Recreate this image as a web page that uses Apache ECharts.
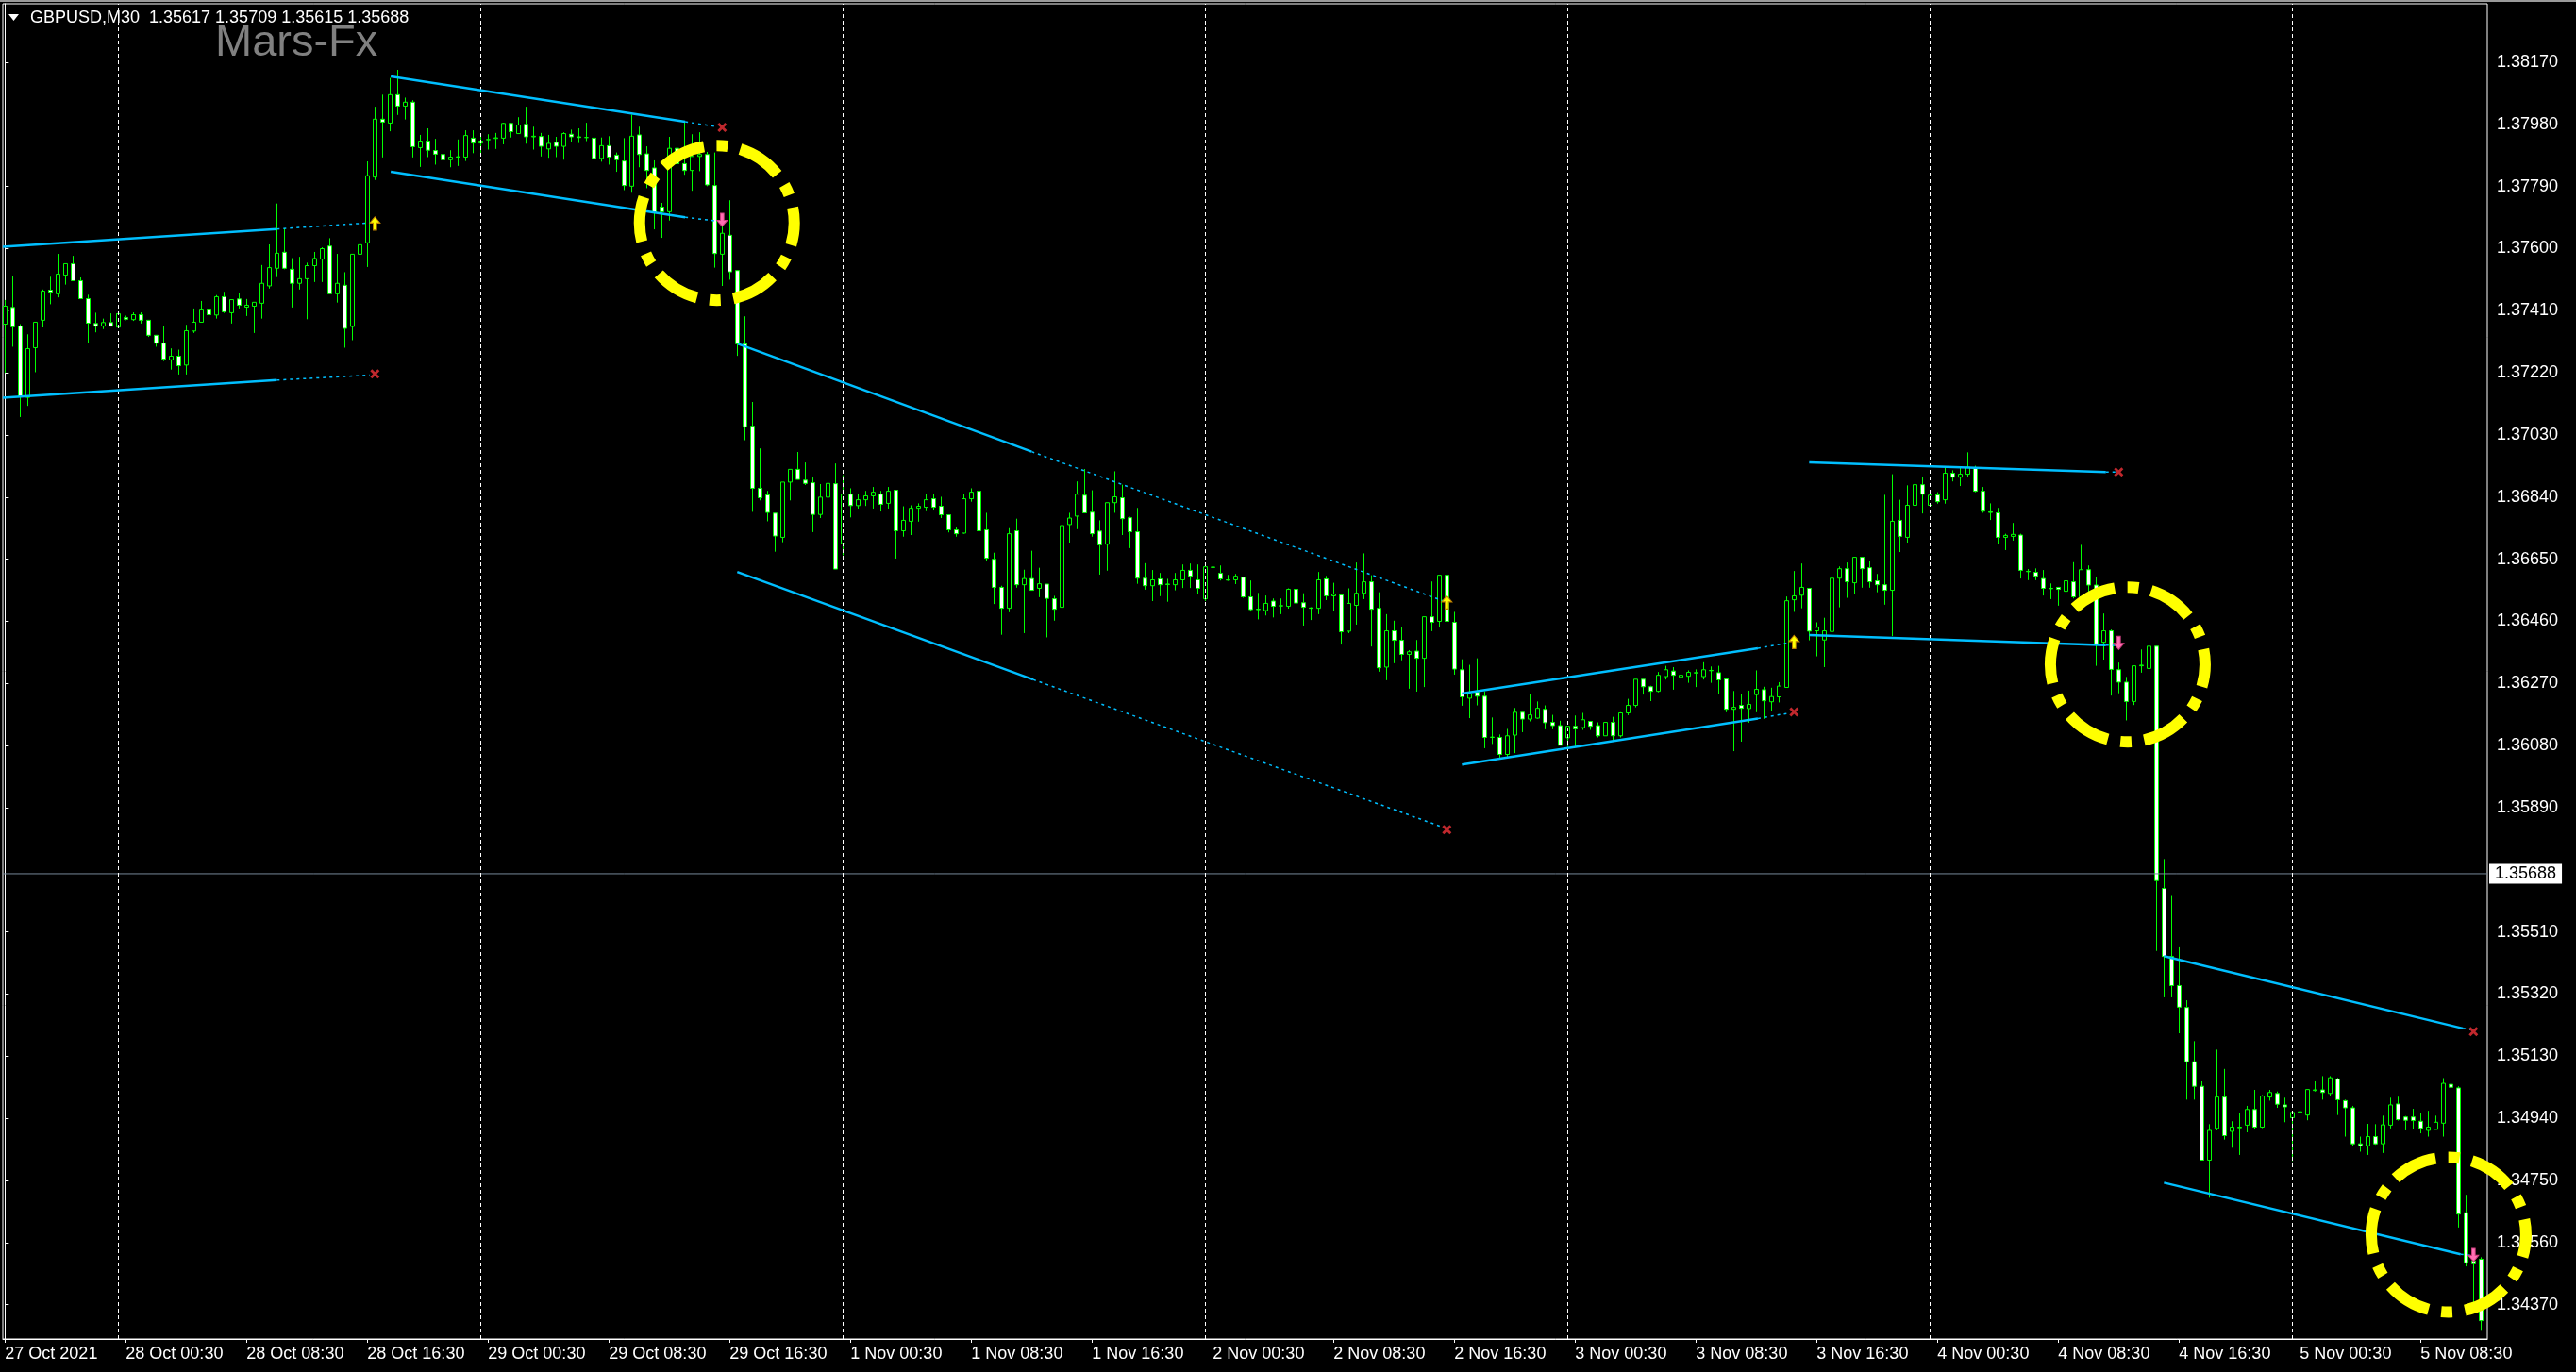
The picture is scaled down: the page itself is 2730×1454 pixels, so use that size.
<!DOCTYPE html>
<html><head><meta charset="utf-8">
<script src="https://cdn.jsdelivr.net/npm/echarts@6/dist/echarts.min.js"></script>
<style>html,body{margin:0;padding:0;background:#000;overflow:hidden}#chart{width:2730px;height:1454px}</style>
</head><body><div id="chart"></div>
<script>
// ---- DATA (GBPUSD M30, bar 0 = 27 Oct 2021 16:30) ----
const opens = [
1.37369,1.37420,1.37363,1.37145,1.37297,1.37381,1.37473,1.37462,1.37519,1.37554,
1.37502,1.37447,1.37371,1.37363,1.37374,1.37360,1.37389,1.37383,1.37398,1.37381,
1.37335,1.37311,1.37260,1.37271,1.37244,1.37348,1.37375,1.37415,1.37397,1.37453,
1.37404,1.37446,1.37421,1.37424,1.37433,1.37486,1.37540,1.37589,1.37537,1.37494,
1.37508,1.37548,1.37568,1.37608,1.37462,1.37488,1.37362,1.37583,1.37618,1.37819,
1.37996,1.37984,1.38071,1.38036,1.38048,
1.37909,1.37929,1.37900,1.37888,1.37872,1.37880,1.37880,1.37938,1.37923,1.37933,
1.37937,1.37938,1.37983,1.37952,1.37980,1.37942,1.37943,1.37905,1.37925,1.37913,
1.37950,1.37942,1.37940,1.37938,1.37876,1.37915,1.37886,1.37868,1.37791,1.37948,
1.37890,1.37847,1.37727,1.37713,1.37907,1.37860,1.37839,1.37882,1.37888,1.37793,
1.37583,1.37641,1.37533,1.37309,1.37057,1.36867,1.36847,1.36791,1.36717,1.36886,
1.36925,1.36892,1.36884,1.36787,1.36840,
1.36881,1.36698,1.36849,1.36814,1.36832,1.36844,1.36849,1.36821,1.36861,1.36737,
1.36766,1.36806,1.36809,1.36835,1.36812,1.36786,1.36740,1.36730,1.36835,1.36858,
1.36740,1.36650,1.36564,1.36500,1.36737,1.36572,1.36591,1.36561,1.36574,1.36529,
1.36503,1.36756,1.36782,1.36846,1.36794,1.36736,1.36696,1.36823,1.36838,1.36777,
1.36734,1.36592,1.36569,1.36590,1.36574,1.36572,1.36587,1.36616,1.36587,1.36529,
1.36625,1.36607,1.36587,1.36587,1.36595,
1.36535,1.36497,1.36493,1.36522,1.36507,1.36506,1.36558,1.36517,1.36501,1.36500,
1.36590,1.36538,1.36541,1.36430,1.36509,1.36546,1.36581,1.36500,1.36320,1.36431,
1.36402,1.36359,1.36369,1.36347,1.36474,1.36460,1.36601,1.36457,1.36312,1.36225,
1.36243,1.36231,1.36105,1.36105,1.36053,1.36112,1.36182,1.36161,1.36164,1.36191,
1.36151,1.36141,1.36104,1.36139,1.36135,1.36154,1.36141,1.36110,1.36151,1.36110,
1.36180,1.36203,1.36283,1.36260,1.36246,
1.36291,1.36308,1.36289,1.36292,1.36302,1.36291,1.36309,1.36303,1.36284,1.36191,
1.36203,1.36193,1.36236,1.36251,1.36214,1.36229,1.36258,1.36526,1.36540,1.36561,
1.36431,1.36403,1.36429,1.36592,1.36621,1.36578,1.36656,1.36624,1.36584,1.36572,
1.36555,1.36769,1.36717,1.36815,1.36878,1.36815,1.36847,1.36832,1.36913,1.36901,
1.36910,1.36930,1.36858,1.36795,1.36792,1.36717,1.36720,1.36724,1.36613,1.36610,
1.36591,1.36561,1.36564,1.36552,1.36581,
1.36535,1.36618,1.36571,1.36396,1.36431,1.36312,1.36274,1.36215,1.36324,1.36316,
1.36384,1.35643,1.35435,1.35346,1.35279,1.35113,1.35038,1.34812,1.34909,1.35005,
1.34900,1.34911,1.34919,1.34967,1.34913,1.35005,1.35016,1.34981,1.34942,1.34958,
1.34950,1.35025,1.35027,1.35016,1.35060,1.34994,1.34972,1.34862,1.34856,1.34884,
1.34862,1.34919,1.34984,1.34944,1.34944,1.34931,1.34903,1.34906,1.34925,1.35044,
1.35033,1.34651,1.34503,1.34509];
const closes = [
1.37424,1.37361,1.37148,1.37294,1.37375,1.37470,1.37467,1.37522,1.37554,1.37502,
1.37447,1.37372,1.37363,1.37374,1.37363,1.37401,1.37384,1.37398,1.37381,1.37335,
1.37311,1.37262,1.37271,1.37242,1.37349,1.37375,1.37415,1.37398,1.37453,1.37407,
1.37444,1.37427,1.37427,1.37436,1.37494,1.37542,1.37586,1.37540,1.37494,1.37508,
1.37548,1.37570,1.37600,1.37462,1.37494,1.37356,1.37583,1.37612,1.37823,1.37996,
1.37987,1.38071,1.38036,1.38048,1.37912,
1.37929,1.37901,1.37889,1.37872,1.37880,1.37881,1.37946,1.37923,1.37929,1.37934,
1.37939,1.37983,1.37958,1.37978,1.37942,1.37944,1.37913,1.37922,1.37913,1.37952,
1.37942,1.37940,1.37940,1.37876,1.37915,1.37880,1.37872,1.37793,1.37944,1.37888,
1.37839,1.37711,1.37713,1.37907,1.37860,1.37839,1.37882,1.37888,1.37795,1.37585,
1.37647,1.37529,1.37309,1.37055,1.36867,1.36838,1.36793,1.36721,1.36886,1.36925,
1.36894,1.36882,1.36787,1.36840,1.36882,
1.36620,1.36849,1.36814,1.36832,1.36844,1.36855,1.36818,1.36858,1.36737,1.36769,
1.36806,1.36812,1.36832,1.36809,1.36786,1.36740,1.36728,1.36835,1.36855,1.36737,
1.36653,1.36564,1.36500,1.36728,1.36572,1.36591,1.36555,1.36575,1.36530,1.36497,
1.36753,1.36776,1.36849,1.36792,1.36728,1.36694,1.36823,1.36841,1.36774,1.36734,
1.36592,1.36569,1.36587,1.36572,1.36573,1.36587,1.36616,1.36598,1.36561,1.36627,
1.36626,1.36590,1.36586,1.36598,1.36535,
1.36496,1.36496,1.36515,1.36506,1.36508,1.36558,1.36516,1.36503,1.36500,1.36587,
1.36538,1.36543,1.36428,1.36515,1.36546,1.36581,1.36497,1.36318,1.36431,1.36402,
1.36359,1.36367,1.36347,1.36474,1.36457,1.36601,1.36460,1.36314,1.36229,1.36238,
1.36231,1.36105,1.36106,1.36053,1.36110,1.36182,1.36161,1.36174,1.36194,1.36150,
1.36141,1.36081,1.36139,1.36131,1.36159,1.36139,1.36110,1.36151,1.36110,1.36180,
1.36203,1.36283,1.36260,1.36246,1.36295,
1.36312,1.36295,1.36295,1.36304,1.36303,1.36312,1.36310,1.36281,1.36191,1.36197,
1.36194,1.36206,1.36252,1.36217,1.36230,1.36262,1.36523,1.36538,1.36564,1.36430,
1.36442,1.36431,1.36592,1.36621,1.36581,1.36656,1.36621,1.36581,1.36572,1.36555,
1.36766,1.36720,1.36815,1.36878,1.36849,1.36846,1.36826,1.36913,1.36901,1.36910,
1.36932,1.36858,1.36797,1.36793,1.36717,1.36723,1.36726,1.36616,1.36612,1.36598,
1.36561,1.36560,1.36558,1.36584,1.36535,
1.36618,1.36571,1.36391,1.36431,1.36313,1.36274,1.36215,1.36324,1.36326,1.36384,
1.35667,1.35435,1.35346,1.35280,1.35113,1.35038,1.34812,1.34903,1.35005,1.34887,
1.34913,1.34913,1.34967,1.34913,1.35008,1.35019,1.34983,1.34975,1.34958,1.34960,
1.35028,1.35027,1.35019,1.35064,1.34997,1.34972,1.34862,1.34856,1.34884,1.34862,
1.34920,1.34981,1.34936,1.34934,1.34933,1.34909,1.34913,1.34928,1.35047,1.35035,
1.34647,1.34498,1.34495,1.34321];
const lows = [
1.37220,1.37300,1.37085,1.37119,1.37222,1.37359,1.37430,1.37451,1.37490,1.37502,
1.37447,1.37310,1.37344,1.37354,1.37363,1.37360,1.37381,1.37379,1.37371,1.37330,
1.37300,1.37256,1.37230,1.37215,1.37215,1.37342,1.37375,1.37383,1.37386,1.37403,
1.37371,1.37417,1.37394,1.37342,1.37386,1.37478,1.37513,1.37537,1.37420,1.37475,
1.37384,1.37498,1.37498,1.37462,1.37435,1.37297,1.37320,1.37552,1.37544,1.37810,
1.37879,1.37959,1.38009,1.37995,1.37879,
1.37850,1.37880,1.37857,1.37853,1.37849,1.37853,1.37868,1.37892,1.37886,1.37903,
1.37905,1.37919,1.37940,1.37952,1.37921,1.37903,1.37882,1.37878,1.37880,1.37872,
1.37927,1.37923,1.37929,1.37876,1.37866,1.37857,1.37835,1.37779,1.37771,1.37849,
1.37785,1.37659,1.37633,1.37686,1.37814,1.37826,1.37777,1.37837,1.37791,1.37542,
1.37486,1.37505,1.37272,1.37014,1.36795,1.36830,1.36766,1.36673,1.36702,1.36830,
1.36894,1.36877,1.36733,1.36776,1.36828,
1.36620,1.36662,1.36778,1.36805,1.36813,1.36805,1.36796,1.36805,1.36652,1.36719,
1.36724,1.36765,1.36797,1.36799,1.36776,1.36732,1.36719,1.36728,1.36826,1.36717,
1.36644,1.36513,1.36419,1.36488,1.36563,1.36424,1.36555,1.36534,1.36411,1.36462,
1.36488,1.36701,1.36742,1.36792,1.36719,1.36603,1.36615,1.36792,1.36724,1.36684,
1.36575,1.36557,1.36522,1.36537,1.36520,1.36555,1.36562,1.36562,1.36545,1.36522,
1.36562,1.36585,1.36584,1.36574,1.36532,
1.36490,1.36466,1.36478,1.36472,1.36482,1.36499,1.36476,1.36447,1.36464,1.36482,
1.36525,1.36493,1.36389,1.36424,1.36450,1.36528,1.36383,1.36306,1.36280,1.36332,
1.36341,1.36254,1.36245,1.36259,1.36430,1.36441,1.36453,1.36297,1.36202,1.36164,
1.36203,1.36072,1.36085,1.36043,1.36045,1.36057,1.36121,1.36154,1.36162,1.36130,
1.36130,1.36081,1.36075,1.36075,1.36128,1.36128,1.36105,1.36110,1.36097,1.36105,
1.36173,1.36197,1.36236,1.36216,1.36243,
1.36282,1.36251,1.36270,1.36272,1.36259,1.36282,1.36272,1.36238,1.36182,1.36063,
1.36092,1.36150,1.36182,1.36162,1.36185,1.36212,1.36258,1.36489,1.36500,1.36402,
1.36353,1.36320,1.36418,1.36503,1.36532,1.36543,1.36563,1.36563,1.36549,1.36511,
1.36415,1.36672,1.36701,1.36776,1.36790,1.36815,1.36820,1.36820,1.36888,1.36874,
1.36900,1.36855,1.36792,1.36770,1.36697,1.36678,1.36707,1.36591,1.36586,1.36586,
1.36539,1.36528,1.36508,1.36508,1.36530,
1.36524,1.36543,1.36324,1.36343,1.36233,1.36240,1.36157,1.36204,1.36303,1.36177,
1.35452,1.35310,1.35310,1.35200,1.34997,1.34997,1.34812,1.34697,1.34903,1.34875,
1.34850,1.34828,1.34897,1.34906,1.34910,1.34994,1.34972,1.34928,1.34809,1.34953,
1.34934,1.35022,1.34997,1.35009,1.34950,1.34884,1.34856,1.34838,1.34828,1.34859,
1.34834,1.34909,1.34933,1.34903,1.34906,1.34894,1.34884,1.34906,1.34884,1.35003,
1.34606,1.34487,1.34370,1.34290];
const highs = [
1.37443,1.37516,1.37369,1.37338,1.37375,1.37475,1.37514,1.37584,1.37554,1.37578,
1.37512,1.37459,1.37404,1.37386,1.37402,1.37401,1.37395,1.37405,1.37405,1.37381,
1.37335,1.37364,1.37295,1.37291,1.37367,1.37417,1.37440,1.37436,1.37458,1.37468,
1.37444,1.37465,1.37446,1.37436,1.37550,1.37613,1.37738,1.37662,1.37571,1.37575,
1.37557,1.37590,1.37604,1.37632,1.37584,1.37528,1.37583,1.37621,1.37867,1.38034,
1.38071,1.38122,1.38147,1.38062,1.38054,
1.37948,1.37968,1.37936,1.37899,1.37901,1.37934,1.37962,1.37962,1.37946,1.37950,
1.37954,1.37985,1.37985,1.38002,1.38034,1.37973,1.37954,1.37948,1.37942,1.37956,
1.37964,1.37968,1.37985,1.37944,1.37940,1.37944,1.37894,1.37938,1.38010,1.37973,
1.37913,1.37870,1.37740,1.37942,1.37948,1.37991,1.37950,1.37956,1.37896,1.37894,
1.37672,1.37748,1.37533,1.37393,1.37131,1.36989,1.36859,1.36791,1.36886,1.36925,
1.36978,1.36946,1.36900,1.36880,1.36925,
1.36943,1.36907,1.36867,1.36849,1.36859,1.36871,1.36859,1.36871,1.36861,1.36812,
1.36815,1.36821,1.36849,1.36849,1.36841,1.36786,1.36747,1.36849,1.36867,1.36858,
1.36792,1.36670,1.36569,1.36745,1.36774,1.36618,1.36676,1.36624,1.36574,1.36538,
1.36765,1.36792,1.36888,1.36926,1.36861,1.36769,1.36823,1.36919,1.36878,1.36780,
1.36807,1.36638,1.36617,1.36608,1.36590,1.36608,1.36634,1.36637,1.36634,1.36627,
1.36654,1.36631,1.36602,1.36605,1.36595,
1.36585,1.36547,1.36539,1.36530,1.36530,1.36561,1.36561,1.36546,1.36503,1.36611,
1.36599,1.36578,1.36541,1.36561,1.36640,1.36668,1.36601,1.36549,1.36482,1.36462,
1.36443,1.36372,1.36403,1.36474,1.36582,1.36601,1.36627,1.36489,1.36344,1.36327,
1.36347,1.36246,1.36166,1.36114,1.36131,1.36195,1.36182,1.36237,1.36215,1.36203,
1.36174,1.36156,1.36139,1.36172,1.36180,1.36154,1.36151,1.36151,1.36168,1.36182,
1.36223,1.36283,1.36283,1.36263,1.36305,
1.36324,1.36320,1.36305,1.36310,1.36313,1.36335,1.36322,1.36324,1.36284,1.36247,
1.36237,1.36248,1.36310,1.36260,1.36257,1.36274,1.36536,1.36614,1.36637,1.36561,
1.36457,1.36471,1.36656,1.36628,1.36640,1.36656,1.36656,1.36644,1.36605,1.36847,
1.36910,1.36832,1.36876,1.36885,1.36901,1.36859,1.36855,1.36930,1.36922,1.36932,
1.36977,1.36936,1.36871,1.36821,1.36807,1.36728,1.36761,1.36728,1.36620,1.36622,
1.36617,1.36576,1.36564,1.36603,1.36641,
1.36694,1.36631,1.36595,1.36484,1.36435,1.36334,1.36290,1.36324,1.36374,1.36506,
1.36384,1.35733,1.35620,1.35463,1.35301,1.35176,1.35053,1.34922,1.35150,1.35091,
1.34931,1.34955,1.34978,1.35027,1.35011,1.35027,1.35022,1.35003,1.34958,1.34985,
1.35028,1.35053,1.35069,1.35069,1.35064,1.34997,1.34978,1.34884,1.34923,1.34922,
1.34948,1.35003,1.35006,1.34947,1.34969,1.34956,1.34963,1.34948,1.35063,1.35078,
1.35038,1.34706,1.34521,1.34515];

const xTickIndex = [0,16,32,48,64,80,96,112,128,144,160,176,192,208,224,240,256,272,288,304,320];
const xTickLabels = ['27 Oct 2021','28 Oct 00:30','28 Oct 08:30','28 Oct 16:30','29 Oct 00:30','29 Oct 08:30',
 '29 Oct 16:30','1 Nov 00:30','1 Nov 08:30','1 Nov 16:30','2 Nov 00:30','2 Nov 08:30','2 Nov 16:30',
 '3 Nov 00:30','3 Nov 08:30','3 Nov 16:30','4 Nov 00:30','4 Nov 08:30','4 Nov 16:30','5 Nov 00:30','5 Nov 08:30'];
const daySeparators = [15,63,111,159,207,255,303];
const yTickValues = [1.38170,1.37980,1.37790,1.37600,1.37410,1.37220,1.37030,1.36840,1.36650,1.36460,
 1.36270,1.36080,1.35890,1.35510,1.35320,1.35130,1.34940,1.34750,1.34560,1.34370];
const bidPrice = 1.35688;
const headerQuote = [1.35617,1.35709,1.35615,1.35688];

const channelSolid = [
 [[-0.3,1.37606],[36.0,1.37660]], [[-0.3,1.37144],[36.0,1.37198]],
 [[51.1,1.38127],[90.1,1.37988]], [[51.1,1.37835],[90.1,1.37696]],
 [[97.1,1.37309],[136.0,1.36979]], [[97.0,1.36611],[136.2,1.36282]],
 [[193.0,1.36239],[232.2,1.36378]], [[193.0,1.36022],[232.2,1.36163]],
 [[239.0,1.36946],[278.3,1.36917]], [[239.0,1.36418],[278.3,1.36387]],
 [[286.0,1.35436],[325.6,1.35215]], [[286.0,1.34743],[325.3,1.34524]]];
const channelDotted = [
 [[36.0,1.37660],[48.3,1.37679]], [[36.0,1.37198],[48.3,1.37213]],
 [[90.1,1.37988],[94.1,1.37974]], [[90.1,1.37696],[94.1,1.37685]],
 [[136.0,1.36979],[190.6,1.36522]], [[136.2,1.36282],[190.4,1.35831]],
 [[232.2,1.36378],[236.0,1.36393]], [[232.2,1.36163],[236.0,1.36178]],
 [[278.3,1.36917],[279.8,1.36917]], [[278.3,1.36387],[280.0,1.36386]],
 [[325.6,1.35215],[326.9,1.35210]], [[325.3,1.34524],[326.9,1.34520]]];
const upArrows = [[49,1.37677],[191,1.36518],[237,1.36397]];
const downArrows = [[95,1.37688],[280,1.36394],[327,1.34522]];
const crossMarks = [[49,1.37217],[95,1.37971],[191,1.35823],[237,1.36183],[280,1.36917],[327,1.35205]];
const highlightCircles = [[94.3,1.37679],[281.2,1.36328],[323.7,1.34584]];

// ---- CHART ----
const FONT = 'Liberation Sans';
const X_MIN = -0.291, X_MAX = 328.834;
const chart = echarts.init(document.getElementById('chart'), null, {width:2730, height:1454});
const candleData = opens.map((o,i)=>[i,o,closes[i],lows[i],highs[i]]);
const series = [{
  type:'candlestick', data:candleData, barWidth:5, z:2,
  itemStyle:{color:'#000000', color0:'#ffffff', borderColor:'#00ff00', borderColor0:'#00ff00', borderWidth:1},
  markLine:{silent:true, symbol:['none','none'], animation:false,
    label:{show:false},
    lineStyle:{color:'#ffffff', type:[4,3], width:1},
    data: daySeparators.map(i=>({xAxis:i}))}
}, {
  type:'line', data:[[X_MIN,bidPrice],[X_MAX,bidPrice]], showSymbol:false, silent:true, z:3, clip:false,
  lineStyle:{color:'#778899', width:1},
  endLabel:{show:true, formatter:()=>bidPrice.toFixed(5), color:'#000000', backgroundColor:'#ffffff',
    padding:[2,6,1,6], fontSize:18, fontFamily:FONT, distance:2}
}];
channelSolid.forEach(seg=>series.push({type:'line', data:seg, showSymbol:false, z:5, silent:true,
  lineStyle:{color:'#00BFFF', width:2.5}}));
channelDotted.forEach(seg=>series.push({type:'line', data:seg, showSymbol:false, z:5, silent:true,
  lineStyle:{color:'#00BFFF', width:1.5, type:[3,4]}}));
const arrowPath = 'path://M6,0 L12,7 L8,7 L8,15 L4,15 L4,7 L0,7 Z';
series.push({type:'scatter', data:upArrows, symbol:arrowPath, symbolSize:[11,14], z:6,
  itemStyle:{color:'#ffff00', borderColor:'#c08000', borderWidth:1, opacity:1}});
series.push({type:'scatter', data:downArrows, symbol:arrowPath, symbolSize:[11,14], symbolRotate:180, z:6,
  itemStyle:{color:'#ff6eb4', borderColor:'#d04080', borderWidth:1, opacity:1}});
series.push({type:'scatter', data:crossMarks,
  symbol:'path://M0,2 L2,0 L5,3 L8,0 L10,2 L7,5 L10,8 L8,10 L5,7 L2,10 L0,8 L3,5 Z', symbolSize:10, z:6,
  itemStyle:{color:'#c0282d', opacity:1}});

chart.setOption({
  backgroundColor:'#000000', animation:false,
  grid:{left:3, top:4, width:2633, height:1415, show:true, borderColor:'#ffffff', borderWidth:1, backgroundColor:'transparent'},
  xAxis:{type:'value', min:X_MIN, max:X_MAX,
    axisLine:{show:true, lineStyle:{color:'#ffffff'}},
    axisTick:{show:true, customValues:xTickIndex, length:4, lineStyle:{color:'#ffffff'}},
    axisLabel:{customValues:xTickIndex, formatter:v=>xTickLabels[Math.round(v/16)]||'', align:'left',
      color:'#ffffff', fontSize:18, fontFamily:FONT, margin:7},
    splitLine:{show:false}},
  yAxis:{type:'value', position:'right', min:1.34265, max:1.38349, scale:true,
    axisLine:{show:true, lineStyle:{color:'#ffffff'}},
    axisTick:{show:true, customValues:yTickValues, length:4, lineStyle:{color:'#ffffff'}},
    axisLabel:{customValues:yTickValues, formatter:v=>Number(v).toFixed(5), color:'#ffffff',
      fontSize:18, fontFamily:FONT, margin:10},
    splitLine:{show:false}},
  series: series
});

const graphics = [
  {type:'rect', shape:{x:0,y:0,width:2730,height:2}, style:{fill:'#9a9a9a'}, z:50},
  {type:'polygon', shape:{points:[[9,15],[20,15],[14.5,22]]}, style:{fill:'#ffffff'}, z:50},
  {type:'text', x:32, y:19.5, style:{text:'GBPUSD,M30  ' + headerQuote.map(v=>v.toFixed(5)).join(' '),
    fill:'#ffffff', font:'18px "Liberation Sans"', textVerticalAlign:'middle'}, z:50},
  {type:'text', x:228, y:46, style:{text:'Mars-Fx', fill:'#808080', font:'47px "Liberation Sans"', textVerticalAlign:'middle'}, z:50}
];
highlightCircles.forEach(c=>{
  const p = chart.convertToPixel({xAxisIndex:0, yAxisIndex:0}, c);
  graphics.push({type:'circle', shape:{cx:p[0], cy:p[1], r:82},
    style:{fill:'none', stroke:'#ffff00', lineWidth:12, lineDash:[48,13.5,12,13.5], lineDashOffset:24}, z:100});
});
chart.setOption({graphic:{elements:graphics}});
</script></body></html>
